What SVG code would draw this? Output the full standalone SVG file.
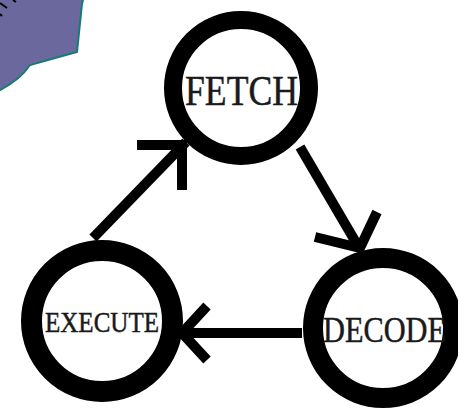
<svg xmlns="http://www.w3.org/2000/svg" width="458" height="408" viewBox="0 0 458 408">
<style>
.ring{fill:#fff;stroke:#000}
.lbl{font-family:"Liberation Serif","Times New Roman",serif;fill:#1a1a1a;stroke:#1a1a1a;stroke-width:0.5}
.conn{stroke:#000;stroke-width:10;fill:none;stroke-linecap:butt;stroke-linejoin:miter}
</style>
<rect width="458" height="408" fill="#fff"/>
<g id="banner">
<path d="M-5,-5 L84,-5 L83,0 L82,4 L77,52 L30,65 Q20,80 0,90 L-5,92 Z" fill="#6A689C" stroke="#167A7A" stroke-width="2"/>
<path d="M0,3 L7,8 M0,14 L2,16 M13,0 L16,2" stroke="#000" stroke-width="2"/>
</g>
<g id="fetch">
<circle class="ring" cx="241" cy="88" r="68" stroke-width="18"/>
<text class="lbl" x="185" y="105" font-size="42" textLength="113" lengthAdjust="spacingAndGlyphs">FETCH</text>
</g>
<g id="execute">
<circle class="ring" cx="102" cy="321" r="70.5" stroke-width="21"/>
<text class="lbl" x="45" y="332" font-size="29" textLength="114" lengthAdjust="spacingAndGlyphs">EXECUTE</text>
</g>
<g id="decode">
<circle class="ring" cx="383" cy="328" r="70" stroke-width="20"/>
<text class="lbl" x="323" y="342" font-size="36" textLength="123" lengthAdjust="spacingAndGlyphs">DECODE</text>
</g>
<g id="connectors">
<path class="conn" d="M93,238 L186,142"/>
<path class="conn" d="M137,145 L186,145 L182,145 M182,142 L182,190"/>
<path class="conn" d="M300,147 L358,246"/>
<path class="conn" d="M315,237 L360,248 L377,212"/>
<path class="conn" d="M302,333 L186,333"/>
<path class="conn" d="M207,306 L182,333 L207,360"/>
</g>
</svg>
